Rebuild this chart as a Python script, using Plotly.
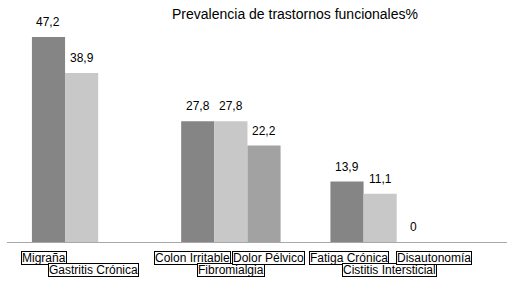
import plotly.graph_objects as go

title = "Prevalencia de trastornos funcionales%"
groups = ["G1", "G2", "G3"]
# series by slot within each group
s1_names = ["Migraña", "Colon Irritable", "Fatiga Crónica"]
s1_vals = [47.2, 27.8, 13.9]
s2_names = ["Gastritis Crónica", "Fibromialgia", "Cistitis Intersticial"]
s2_vals = [38.9, 27.8, 11.1]
s3_names = [None, "Dolor Pélvico", "Disautonomía"]
s3_vals = [None, 22.2, 0]

colors = ["#858585", "#c8c8c8", "#a2a2a2"]
series = [(s1_names, s1_vals), (s2_names, s2_vals), (s3_names, s3_vals)]

# label layout: (row, pixel shift from bar centre)
label_layout = {
    "Migraña": (1, -4), "Gastritis Crónica": (2, 12), "Colon Irritable": (1, -5),
    "Fibromialgia": (2, 0), "Dolor Pélvico": (1, 4), "Fatiga Crónica": (1, 2),
    "Cistitis Intersticial": (2, 9), "Disautonomía": (1, 21),
}

FONT = "Liberation Sans, Arial"

def fmt(v):
    if v == 0:
        return "0"
    return f"{v:.1f}".replace(".", ",")

bargap = 0.334
slot = (1 - bargap) / 3

fig = go.Figure()
annotations = []
for k, ((names, vals), col) in enumerate(zip(series, colors)):
    fig.add_trace(go.Bar(x=groups, y=vals, marker=dict(color=col, line=dict(width=0)),
                         name=str(k), offsetgroup=str(k), showlegend=False, hoverinfo="skip"))
    for gi, (nm, v) in enumerate(zip(names, vals)):
        if nm is None:
            continue
        xc = gi + (k - 1) * slot
        annotations.append(dict(x=xc, y=v, xref="x", yref="y", text=fmt(v), showarrow=False,
                                yanchor="bottom", yshift=6,
                                font=dict(family=FONT, size=12, color="#000")))
        row, dx = label_layout[nm]
        annotations.append(dict(x=xc, y=0, xref="x", yref="y", text=nm, showarrow=False,
                                yanchor="top", xshift=dx, yshift=-9 if row == 1 else -21,
                                height=12, valign="middle",
                                bordercolor="#000", borderwidth=1, borderpad=0, bgcolor="#fff",
                                font=dict(family=FONT, size=12, color="#000")))

fig.update_layout(
    width=507, height=281,
    margin=dict(l=7, r=0, t=3, b=39),
    paper_bgcolor="#fff", plot_bgcolor="#fff",
    barmode="group", bargap=bargap, bargroupgap=0,
    title=dict(text=title, x=295 / 507, xref="container", xanchor="center",
               y=1 - 14 / 281, yref="container", yanchor="middle",
               font=dict(family=FONT, size=14, color="#000")),
    xaxis=dict(range=[-0.5, 2.85], showticklabels=False, showgrid=False, zeroline=False,
               showline=True, linecolor="#a8a8a8", linewidth=1, ticks=""),
    yaxis=dict(range=[0, 55], visible=False, showgrid=False, zeroline=False),
    annotations=annotations,
)
fig.write_html("out.html", config={"displayModeBar": False},
               post_script="document.body.style.margin='0';")
